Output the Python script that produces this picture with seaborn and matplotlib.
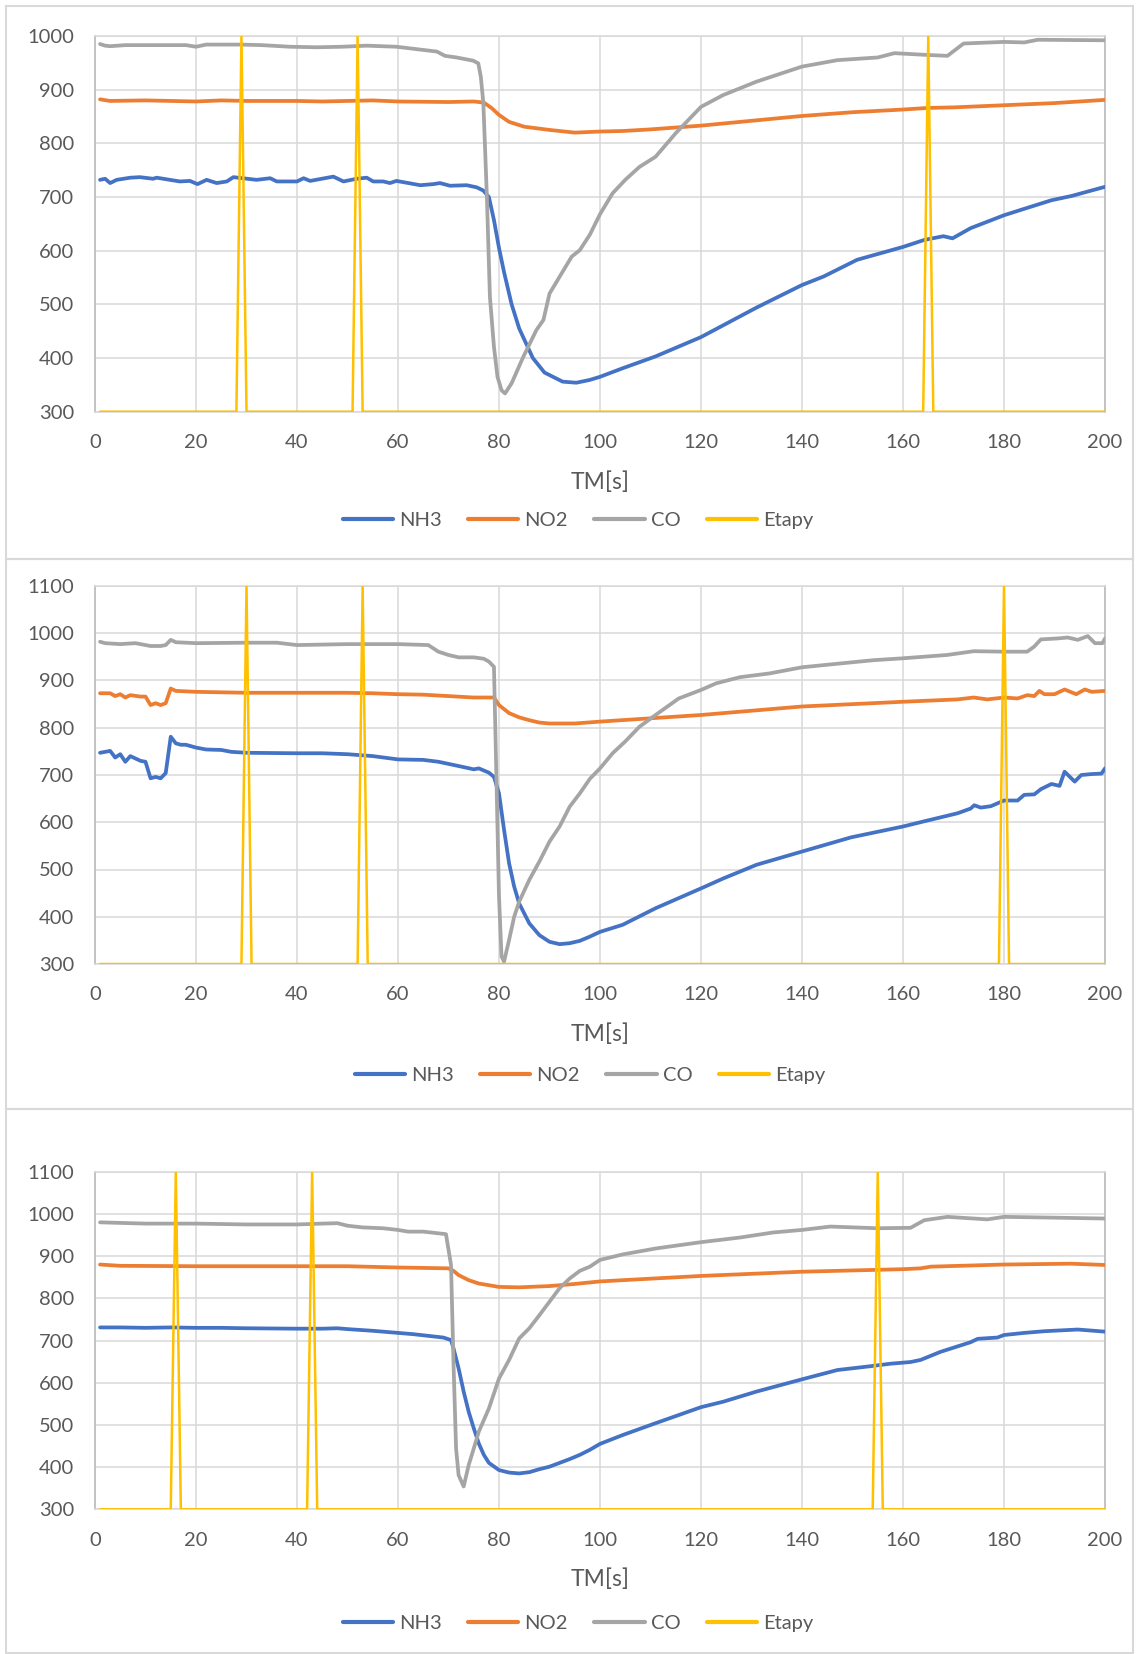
import numpy as np
import pandas as pd
import matplotlib
matplotlib.use('Agg')
import matplotlib.pyplot as plt
import seaborn as sns

sns.set_theme(style='white')
plt.rcParams['font.family'] = ['Lato', 'DejaVu Sans']

# ---------------- panel 1 ----------------
nh3_1_x = [1, 2, 3, 4.3, 7, 8.9, 11.5, 12.2, 16.8, 18.8, 20.3, 22.1, 24.1, 26.1, 27.4,
           32, 34.7, 36, 40, 41.3, 42.6, 47.2, 49.2, 51.8, 53.8, 55.1, 57.1, 58.4, 59.7,
           64.4, 67, 68.3, 70.3, 73.6, 75.6, 76.9, 78, 79, 80, 81, 82.5, 84, 86.7, 89,
           92.6, 95.3, 97.9, 100, 104.5, 111, 120, 124.4, 131, 140, 144.3, 150.9, 160,
           164.2, 168, 169.8, 173.4, 180, 184, 189.4, 193.4, 200]
nh3_1 = [732, 734, 726, 732, 736, 737, 734, 736, 729, 730, 724, 732, 726, 729, 737,
         732, 735, 729, 729, 735, 730, 738, 729, 734, 736, 729, 729, 726, 730,
         722, 724, 726, 721, 722, 718, 712, 700, 657, 605, 560, 500, 455, 400, 373,
         356, 354, 359, 365, 381, 403, 439, 461, 494, 536, 552, 583, 607,
         620, 627, 623, 642, 666, 678, 694, 702, 719]

no2_1_x = [1, 3, 10, 20, 25, 30, 40, 45, 50, 55, 60, 70, 75, 77, 78.5, 80, 82, 85, 90,
           95, 100, 104.5, 110, 120, 130, 140, 150, 160, 165, 170, 180, 190, 200]
no2_1 = [882, 879, 880, 878, 880, 879, 879, 878, 879, 880, 878, 877, 878, 876, 866, 853,
         840, 831, 825, 820, 822, 823, 826, 833, 842, 851, 858, 863, 866, 867, 871, 875, 881]

co_1_x = [1, 2, 3, 6, 12, 18, 20, 22, 29, 33, 38.6, 43.9, 49, 53.8, 59.7, 65, 67.7,
          69.3, 71.6, 74.9, 75.9, 76.4, 76.9, 77.6, 78.2, 79, 79.7, 80.5, 81.2, 82.5,
          84.8, 87.4, 88.8, 90, 92.8, 94.4, 96, 98, 100, 102.5, 105, 107.8, 111, 115,
          120, 124.4, 131, 140, 147, 155, 158.3, 164.2, 168.8, 172, 180, 184, 186.7, 200]
co_1 = [985, 982, 981, 983, 983, 983, 980, 984, 984, 983, 980, 979, 980, 982, 980, 974, 971,
        963, 960, 954, 949, 924, 875, 701, 514, 421, 365, 340, 334, 353,
        402, 452, 471, 520, 564, 589, 601, 630, 668, 707, 732, 756, 775, 819,
        868, 890, 915, 943, 955, 960, 968, 965, 963, 986, 989, 988, 993, 992]

etapy_1_x = [1, 28, 29, 30, 51, 52, 53, 164, 165, 166, 200]
etapy_1 = [300, 300, 1000, 300, 300, 1000, 300, 300, 1000, 300, 300]

# ---------------- panel 2 ----------------
nh3_2_x = [1, 2, 3, 4, 5, 6, 7, 8, 9, 10, 11, 12, 13, 14, 15, 16, 17, 18, 20, 22, 25, 27,
           30, 40, 45, 50, 55, 60, 65, 68, 72, 75, 76, 78, 79, 80, 81, 82, 83, 84, 86, 88,
           90, 92, 94, 96, 98, 100, 104.5, 111, 120, 124.4, 131, 140, 149.7, 160, 164.2,
           170.8, 173.4, 174.1, 175.4, 177.4, 180, 182.7, 184, 186, 187.3, 189.4, 191,
           192, 194, 195.3, 197.4, 199.3, 200]
nh3_2 = [747, 749, 751, 737, 744, 728, 740, 735, 730, 728, 693, 696, 693, 704, 781, 767,
         764, 764, 758, 754, 753, 749, 747, 746, 746, 744, 740, 733, 732, 728, 719, 712,
         714, 705, 696, 661, 584, 513, 464, 428, 386, 361, 347, 342, 344, 349, 358, 368,
         383, 418, 460, 481, 510, 538, 568, 591, 602, 619, 629, 636, 631, 634, 646, 646,
         658, 659, 670, 681, 677, 707, 686, 700, 702, 703, 714]

no2_2_x = [1, 3, 4, 5, 6, 7, 9, 10, 11, 12, 13, 14, 15, 16, 20, 30, 40, 50, 55, 60, 65,
           70, 75, 79, 80, 82, 84, 86, 88, 90, 95, 100, 110, 120, 140, 160, 170.8, 174,
           176.7, 180, 182.7, 184.6, 186, 187, 188, 190, 192, 194.3, 196, 197.4, 200]
no2_2 = [873, 873, 867, 871, 864, 869, 866, 866, 848, 852, 848, 852, 883, 878, 876, 874,
         874, 874, 873, 871, 870, 867, 864, 864, 848, 831, 822, 816, 811, 809, 809, 813,
         820, 827, 845, 855, 860, 864, 860, 864, 862, 869, 867, 878, 871, 871, 881, 871,
         881, 876, 878]

co_2_x = [1, 2, 5, 8, 10, 11, 13, 14, 15, 16, 20, 30, 36, 40, 50, 55, 60, 66, 68, 70, 72,
          75, 77, 78, 79, 79.5, 80, 80.5, 81, 82, 83, 84, 86, 88, 90, 92, 94, 96, 98, 100,
          102.5, 105, 107.8, 111, 115.6, 120, 123, 127.7, 133.6, 140, 147.5, 154.2, 160,
          168.7, 174, 180, 184.6, 186, 187.3, 190.6, 192.6, 194.6, 196.6, 198, 199.5, 200]
co_2 = [982, 979, 977, 979, 975, 973, 973, 975, 986, 981, 979, 980, 980, 975, 977, 977, 977,
        975, 961, 954, 949, 949, 946, 940, 929, 689, 443, 316, 305, 351, 400, 432, 478,
        517, 559, 591, 633, 661, 692, 714, 746, 771, 802, 827, 862, 880, 894, 907, 915,
        928, 936, 943, 947, 954, 962, 961, 961, 972, 987, 989, 991, 986, 994, 979, 979, 989]

etapy_2_x = [1, 29, 30, 31, 52, 53, 54, 179, 180, 181, 200]
etapy_2 = [300, 300, 1100, 300, 300, 1100, 300, 300, 1100, 300, 300]

# ---------------- panel 3 ----------------
nh3_3_x = [1, 5, 10, 15, 20, 25, 30, 40, 45, 48, 50, 55, 60, 63, 66, 69, 70.5, 71, 72, 73,
           74, 75, 76, 77, 78, 80, 82, 84, 86, 88, 90, 92, 94, 96, 98, 100, 104.5, 111,
           120, 124.4, 131, 140, 147, 153.5, 157.5, 161.5, 163.5, 167.4, 173.4, 174.8,
           178.7, 180, 184, 188, 194.6, 200]
nh3_3 = [731, 731, 730, 731, 730, 730, 729, 728, 728, 729, 727, 723, 718, 715, 711, 707,
         701, 681, 634, 579, 531, 492, 456, 429, 410, 393, 387, 385, 388, 395, 401, 410,
         419, 429, 441, 455, 476, 504, 542, 555, 579, 608, 630, 639, 645, 649, 654, 673,
         696, 704, 707, 713, 718, 722, 726, 721]

no2_3_x = [1, 5, 20, 40, 50, 60, 65, 70, 71, 72, 74, 76, 78, 80, 84, 90, 95, 100, 120, 140,
           160, 163.5, 165.5, 180, 193.2, 200]
no2_3 = [880, 877, 876, 876, 876, 873, 872, 871, 865, 855, 843, 835, 831, 827, 826, 829,
         834, 840, 853, 863, 869, 871, 875, 880, 882, 879]

co_3_x = [1, 10, 20, 30, 40, 45, 48, 50, 53, 57, 60, 62, 65, 68, 69.5, 70.5, 71, 71.5, 72,
          73, 74, 75, 76, 78, 80, 82, 84, 86, 88, 90, 92, 94, 96, 98, 100, 104.5, 111,
          120, 127.7, 134.3, 140, 145.6, 154.9, 161.5, 164.2, 168.8, 176.7, 180, 190.6, 200]
co_3 = [980, 977, 977, 975, 975, 977, 978, 972, 968, 966, 962, 958, 958, 954, 952, 879,
        642, 444, 381, 354, 405, 444, 484, 539, 610, 654, 705, 729, 760, 792, 824, 847,
        865, 875, 891, 904, 918, 933, 944, 956, 962, 970, 966, 967, 985, 993, 987, 993,
        991, 989]

etapy_3_x = [1, 15, 16, 17, 42, 43, 44, 154, 155, 156, 200]
etapy_3 = [300, 300, 1100, 300, 300, 1100, 300, 300, 1100, 300, 300]

y_tops = [1000, 1100, 1100]
series_names = ['NH3', 'NO2', 'CO', 'Etapy']
colors = ['#4472C4', '#ED7D31', '#A5A5A5', '#FFC000']
txt = '#595959'

panels = [
    [(nh3_1_x, nh3_1), (no2_1_x, no2_1), (co_1_x, co_1), (etapy_1_x, etapy_1)],
    [(nh3_2_x, nh3_2), (no2_2_x, no2_2), (co_2_x, co_2), (etapy_2_x, etapy_2)],
    [(nh3_3_x, nh3_3), (no2_3_x, no2_3), (co_3_x, co_3), (etapy_3_x, etapy_3)],
]

W, H = 1136, 1654
fig = plt.figure(figsize=(W / 100, H / 100), dpi=100)

# chart-area frames (px: top, bottom)
frames = [(6, 559), (559, 1109), (1109, 1653)]
for top, bot in frames:
    fig.patches.append(plt.Rectangle((6 / W, 1 - bot / H), 1127 / W, (bot - top) / H,
                                     transform=fig.transFigure, fill=False,
                                     edgecolor='#d9d9d9', lw=1.5))

# plot areas (px: top, bottom)
areas = [(36, 411.7), (586, 964), (1171.7, 1509.3)]
legend_y = [520, 1075, 1623]
legend_x = [578, 590, 578]

for i, (top, bot) in enumerate(areas):
    ax = fig.add_axes([95 / W, 1 - bot / H, 1010 / W, (bot - top) / H])
    for (xs, ys), name, c in zip(panels[i], series_names, colors):
        df = pd.DataFrame({'t': xs, 'v': ys})
        sns.lineplot(data=df, x='t', y='v', ax=ax, color=c, estimator=None, sort=False,
                     lw=1.8 if name == 'Etapy' else 2.7, label=name, legend=False,
                     zorder=4 if name == 'Etapy' else 3)
    ax.set_xlim(0, 200)
    ax.set_ylim(300, y_tops[i])
    ax.set_xticks(np.arange(0, 201, 20))
    ax.set_yticks(np.arange(300, y_tops[i] + 1, 100))
    ax.grid(True, color='#d9d9d9', lw=1.1)
    ax.set_axisbelow(True)
    for s in ['top', 'bottom']:
        ax.spines[s].set_color('#d9d9d9')
        ax.spines[s].set_linewidth(1.1)
    for s in ['left', 'right']:
        ax.spines[s].set_color('#bfbfbf')
        ax.spines[s].set_linewidth(1.3)
    ax.tick_params(length=0, labelsize=14.5, labelcolor=txt)
    ax.tick_params(axis='y', pad=15)
    ax.tick_params(axis='x', pad=16)
    ax.set_ylabel('')
    ax.set_xlabel('TM[s]', fontsize=16.5, color=txt, va='center')
    ax.xaxis.set_label_coords(0.5, -70 / (bot - top))
    handles, labels = ax.get_legend_handles_labels()
    leg = fig.legend(handles, labels, loc='center', ncol=4, frameon=False,
                     bbox_to_anchor=(legend_x[i] / W, 1 - legend_y[i] / H),
                     fontsize=14.5, handlelength=2.5, handletextpad=0.3,
                     columnspacing=1.3, labelcolor=txt)
    for h in leg.get_lines():
        h.set_linewidth(3.0)

fig.savefig('out.png', dpi=100)
